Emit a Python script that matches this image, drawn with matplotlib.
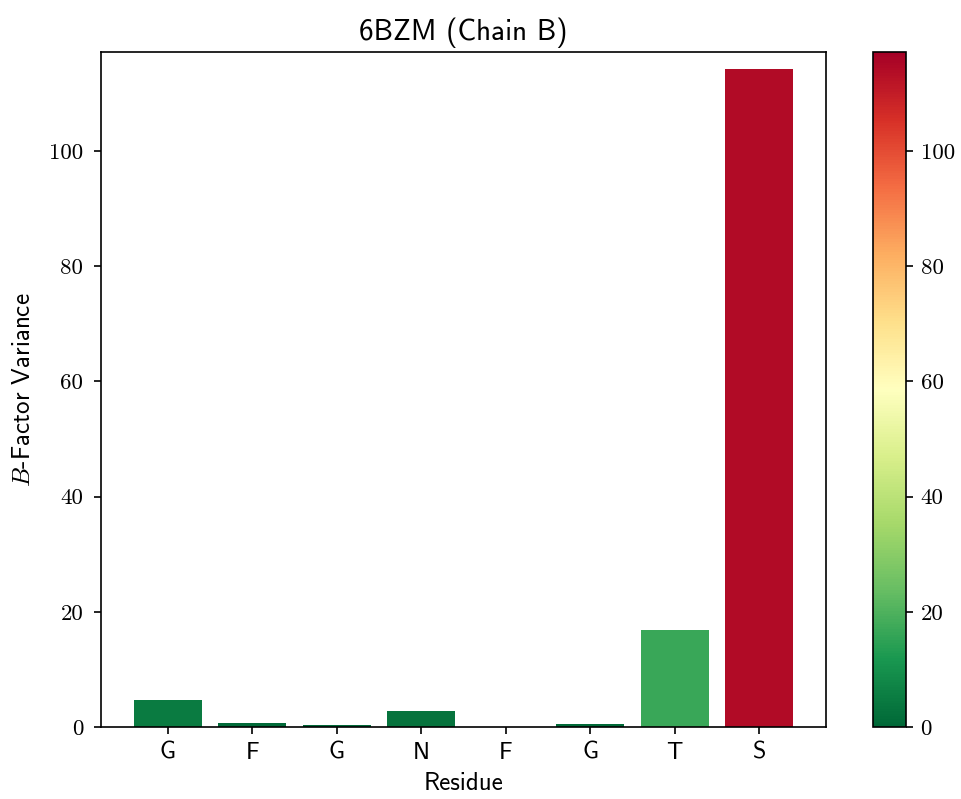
import numpy as np
import matplotlib
matplotlib.use('Agg')
import matplotlib.pyplot as plt
from matplotlib import cm, colors

residues = ['G', 'F', 'G', 'N', 'F', 'G', 'T', 'S']
variance = [4.7, 0.7, 0.3, 2.8, 0.05, 0.5, 16.8, 114.2]
vmax = 117.2

plt.rcParams['mathtext.fontset'] = 'cm'
plt.rcParams['font.family'] = ['cmss10', 'DejaVu Sans']
plt.rcParams['axes.unicode_minus'] = False

fig = plt.figure(figsize=(6.413, 5.327), dpi=150)
ax = fig.add_axes([101/962, 72/799, 725/962, 675/799])
cax = fig.add_axes([873/962, 72/799, 33/962, 675/799])

norm = colors.Normalize(vmin=0, vmax=vmax)
cmap = plt.get_cmap('RdYlGn_r')
x = np.arange(len(residues))
ax.bar(x, variance, color=cmap(norm(np.array(variance))))
ax.set_ylim(0, vmax)
ax.set_xticks(x)
ax.set_xticklabels(residues, fontsize=11.5)
ax.set_xlabel('Residue', fontsize=12)
ax.set_ylabel('$B$-Factor Variance', fontsize=12, labelpad=7)
ax.set_title('6BZM (Chain B)', fontsize=14)
for lab in ax.get_yticklabels():
    lab.set_fontfamily('cmr10')
    lab.set_fontsize(11)
ax.tick_params(axis='y', pad=5)

sm = cm.ScalarMappable(norm=norm, cmap=cmap)
cb = fig.colorbar(sm, cax=cax)
for lab in cb.ax.get_yticklabels():
    lab.set_fontfamily('cmr10')
    lab.set_fontsize(11)

plt.savefig('out.png')
